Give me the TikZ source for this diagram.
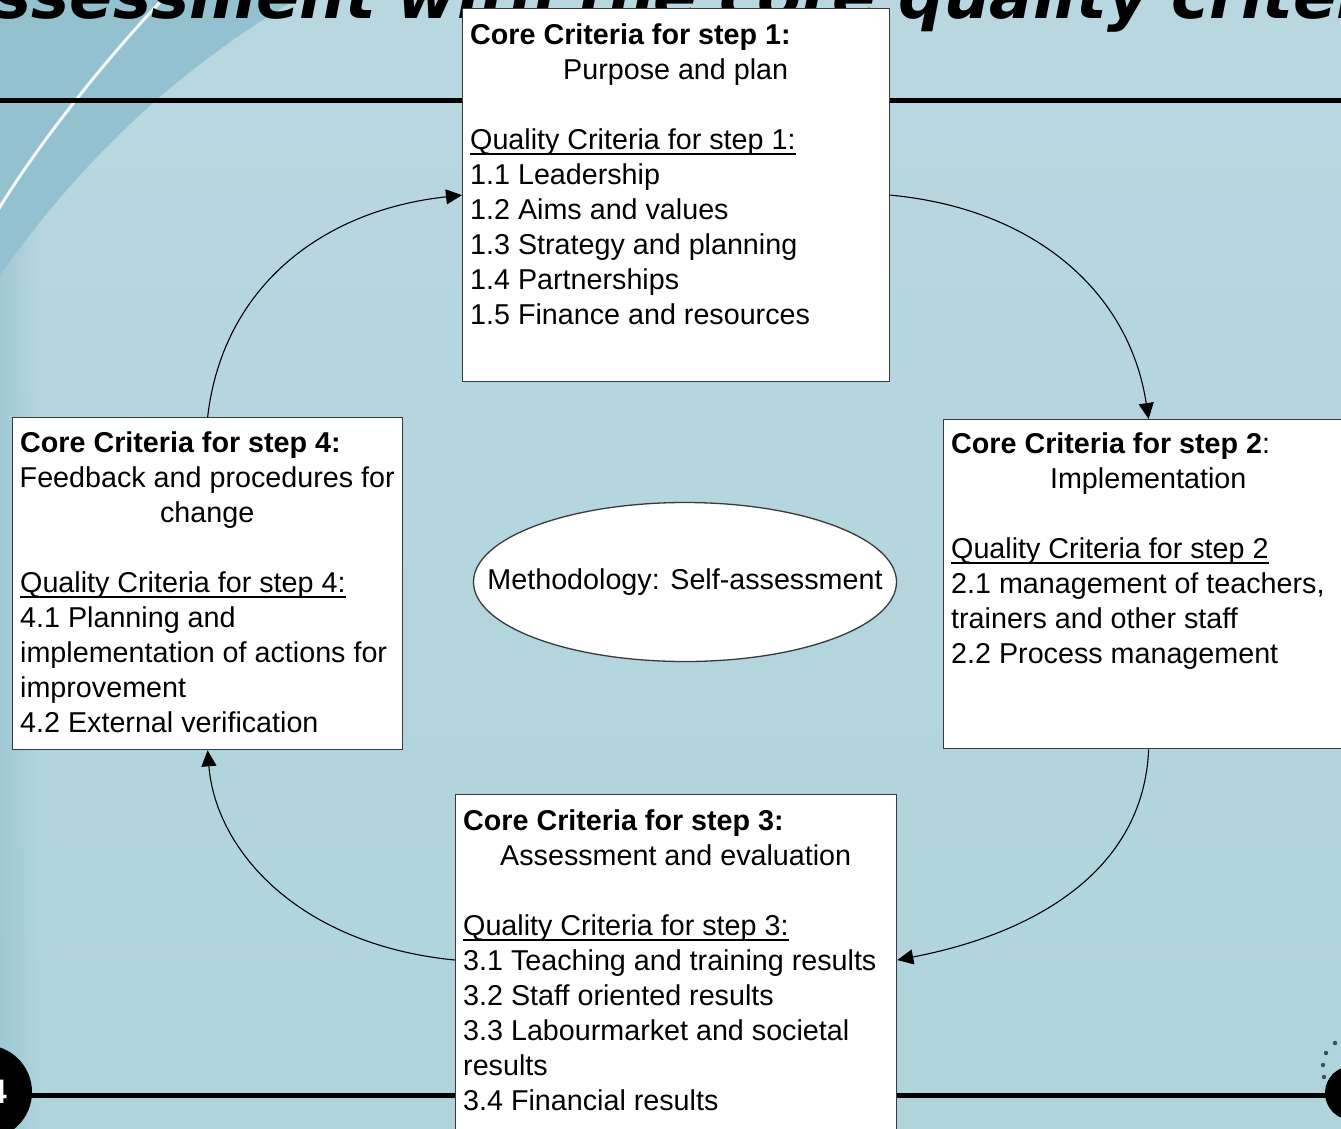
\documentclass[tikz,border=0pt]{standalone}
\usepackage{fontspec}
\setmainfont{Liberation Sans}
\newfontfamily\titlefont{DejaVu Sans}
\usetikzlibrary{arrows.meta,shapes.geometric,calc,fadings}
\definecolor{bgtop}{HTML}{B9D7E0}
\definecolor{bgbot}{HTML}{AFD4DC}
\definecolor{bgdark}{HTML}{93C1CF}
\definecolor{boxline}{HTML}{3A3A3A}
\definecolor{dotcol}{HTML}{3C4C5C}
\newcommand\myul[1]{\setbox0\hbox{#1}\rlap{\rule[-5.5pt]{\wd0}{1.8pt}}\box0}
\tikzset{
  stepbox/.style={draw=boxline, line width=1.3pt, fill=white, rectangle, inner sep=0pt, anchor=north west},
  boxtext/.style={inner sep=0pt, anchor=north west, align=left, font=\fontsize{28.7}{35}\selectfont},
  conn/.style={line width=1.1pt, -{Triangle[length=16pt,width=15pt]}},
  bar/.style={line width=5pt, black},
}
\begin{document}
\begin{tikzpicture}[x=1pt, y=-1pt]
\useasboundingbox (0,0) rectangle (1341,1128);
\begin{scope}
\clip (0,0) rectangle (1341,1128);
% background
\shade[top color=bgtop, bottom color=bgbot] (0,0) rectangle (1341,1128);
\fill[bgdark, opacity=0.6, path fading=east] (0,200) rectangle (40,1128);
\fill[bgdark] (0,0) -- (295,0) .. controls (220,45) and (110,120) .. (0,275) -- cycle;
\draw[white!85!bgtop, line width=3pt] (162,0) .. controls (110,55) and (40,140) .. (-5,215);
% title
\node[anchor=base west, inner sep=0pt, font=\titlefont\bfseries\itshape\fontsize{64}{64}\selectfont] (title) at (-56,18) {Assessment with the core quality criteria};
% bars
\draw[bar] (0,100) -- (1341,100);
\draw[bar] (0,1095) -- (1341,1095);
\fill[black] (-15,1092) circle (47);
\node[text=white, font=\bfseries\fontsize{34}{34}\selectfont, anchor=east, inner sep=0pt] (pgnum) at (7,1092) {4};
\fill[black] (1352,1093) circle (27);
\foreach \px/\py in {1335/1043, 1326/1053, 1323/1065, 1324/1077}
  \fill[dotcol] (\px,\py) circle (2.2);

% boxes
\node[stepbox, minimum width=427pt, minimum height=373pt] (b1) at (462,8) {};
\node[stepbox, minimum width=410pt, minimum height=329pt] (b2) at (943,419) {};
\node[stepbox, minimum width=441pt, minimum height=345pt] (b3) at (455,794) {};
\node[stepbox, minimum width=390pt, minimum height=332pt] (b4) at (12,417) {};

\node[boxtext] (t1) at ($(b1.north west)+(8,0)$) {\rule{0pt}{36pt}\textbf{Core Criteria for step 1:}\\
\makebox[411pt]{Purpose and plan}\\[35pt]
\myul{Quality Criteria for step 1:}\\
1.1 Leadership\\
1.2 Aims and values\\
1.3 Strategy and planning\\
1.4 Partnerships\\
1.5 Finance and resources};

\node[boxtext] (t2) at ($(b2.north west)+(8,0)$) {\rule{0pt}{34pt}\textbf{Core Criteria for step 2}:\\
\makebox[394pt]{Implementation}\\[35pt]
\myul{Quality Criteria for step 2}\\
2.1 management of teachers,\\
trainers and other staff\\
2.2 Process management};

\node[boxtext] (t3) at ($(b3.north west)+(8,0)$) {\rule{0pt}{36pt}\textbf{Core Criteria for step 3:}\\
\makebox[425pt]{Assessment and evaluation}\\[35pt]
\myul{Quality Criteria for step 3:}\\
3.1 Teaching and training results\\
3.2 Staff oriented results\\
3.3 Labourmarket and societal\\
results\\
3.4 Financial results};

\node[boxtext] (t4) at ($(b4.north west)+(8,0)$) {\rule{0pt}{35pt}\textbf{Core Criteria for step 4:}\\
\makebox[374pt]{Feedback and procedures for}\\
\makebox[374pt]{change}\\[35pt]
\myul{Quality Criteria for step 4:}\\
4.1 Planning and\\
implementation of actions for\\
improvement\\
4.2 External verification};

% methodology ellipse
\node[ellipse, draw=boxline, line width=1.3pt, fill=white, minimum width=423pt, minimum height=159pt, inner sep=0pt] (m) at (685,582) {};
\node[font=\fontsize{28.7}{35}\selectfont, inner sep=0pt] (mt) at (m.center) {Methodology: Self-assessment};

% connectors
\coordinate (b3r) at ($(b3.north east)+(0,166)$);
\coordinate (b3l) at ($(b3.north west)+(0,166)$);
\draw[conn] (b1.east) .. controls +(141,13) and +(-20,-130) .. (b2.north);
\draw[conn] (b2.south) .. controls +(-5,120) and +(140,-27) .. (b3r);
\draw[conn] (b3l) .. controls +(-155,-15) and +(8,101) .. (b4.south);
\draw[conn] (b4.north) .. controls +(15,-130) and +(-140,15) .. (b1.west);
\end{scope}
\end{tikzpicture}
\end{document}
